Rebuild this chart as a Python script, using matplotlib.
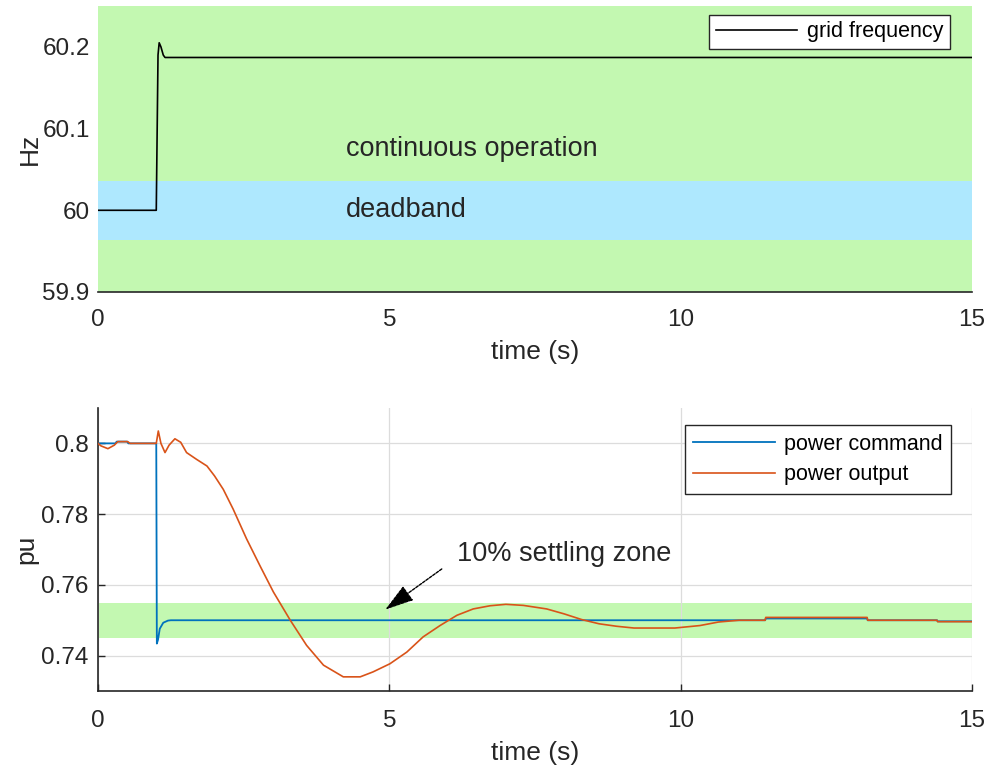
import matplotlib
matplotlib.use("Agg")
import matplotlib.pyplot as plt

plt.rcParams['font.family'] = ['Liberation Sans', 'DejaVu Sans']

# ---- data: top panel (grid frequency) ----
freq_t = [0.0, 1.0, 1.03, 1.05, 1.08, 1.12, 1.15, 15.0]
freq_hz = [60.0, 60.0, 60.19, 60.205, 60.2, 60.19, 60.187, 60.187]
deadband = [59.964, 60.036]
continuous_band = [59.9, 60.25]

# ---- data: bottom panel (power) ----
cmd_t = [0.0, 0.3, 0.32, 0.5, 0.52, 1.0, 1.01, 1.03, 1.06, 1.12, 1.2, 1.25,
         11.45, 11.46, 13.2, 13.21, 14.4, 14.41, 15.0]
cmd_pu = [0.8, 0.8, 0.8005, 0.8005, 0.8, 0.8, 0.7434, 0.7445, 0.7476, 0.7493, 0.7499, 0.75,
          0.75, 0.7505, 0.7505, 0.75, 0.75, 0.7497, 0.7497]

out_t = [0.0, 0.05, 0.17, 0.28, 0.34, 0.51, 0.55, 1.0, 1.035, 1.08, 1.15, 1.22, 1.32, 1.42,
         1.52, 1.69, 1.87, 2.0, 2.15, 2.32, 2.55, 2.78, 3.01, 3.3, 3.58, 3.87, 4.21,
         4.5, 4.72, 5.01, 5.3, 5.58, 5.87, 6.16, 6.44, 6.73, 7.0, 7.3, 7.7, 8.0, 8.3,
         8.6, 8.9, 9.2, 9.9, 10.33, 10.65, 11.0, 11.45, 11.46, 13.2, 13.21, 14.4, 14.41, 15.0]
out_pu = [0.8, 0.7993, 0.7985, 0.7995, 0.8005, 0.8005, 0.8, 0.8, 0.8035, 0.800, 0.7974, 0.7995,
          0.8013, 0.8003, 0.7974, 0.7955, 0.7936, 0.7908, 0.787, 0.7814, 0.773, 0.7654, 0.758,
          0.750, 0.7429, 0.7373, 0.734, 0.734, 0.7354, 0.7377, 0.741, 0.7453, 0.7485, 0.7514,
          0.7532, 0.7541, 0.7545, 0.7542, 0.7532, 0.7518, 0.7502, 0.749, 0.7483, 0.7478, 0.7478,
          0.7485, 0.7495, 0.75, 0.75, 0.7508, 0.7508, 0.75, 0.75, 0.7496, 0.7496]
settling_band = [0.745, 0.755]

xticks = [0, 5, 10, 15]
top_yticks = [59.9, 60.0, 60.1, 60.2]
top_yticklabels = ['59.9', '60', '60.1', '60.2']
bot_yticks = [0.74, 0.76, 0.78, 0.8]
bot_yticklabels = ['0.74', '0.76', '0.78', '0.8']

GREEN = '#c3f8b1'
BLUE_BAND = '#aee8fe'
TXT = '#262626'
C_BLUE = '#0072BD'
C_ORANGE = '#D95319'

TICK_FS = 17.5
LABEL_FS = 19
TEXT_FS = 19.5
LEG_FS = 15.5

fig = plt.figure(figsize=(9.89, 7.68), dpi=100)

# ---------- top axes ----------
ax1 = fig.add_axes([98/989, 1 - 292/768, 874/989, 286/768])
ax1.axhspan(continuous_band[0], continuous_band[1], color=GREEN, lw=0, zorder=0)
ax1.axhspan(deadband[0], deadband[1], color=BLUE_BAND, lw=0, zorder=0.5)
ax1.plot(freq_t, freq_hz, color='black', lw=1.2, label='grid frequency', zorder=3)
ax1.set_xlim(0, 15)
ax1.set_ylim(59.9, 60.25)
ax1.set_xticks(xticks)
ax1.set_xticklabels([str(v) for v in xticks])
ax1.set_yticks(top_yticks)
ax1.set_yticklabels(top_yticklabels)
for s in ['left', 'top', 'right']:
    ax1.spines[s].set_visible(False)
ax1.spines['bottom'].set_color(TXT)
ax1.spines['bottom'].set_linewidth(1.2)
ax1.tick_params(axis='x', length=0, labelsize=TICK_FS, colors=TXT, pad=12)
ax1.tick_params(axis='y', length=0, labelsize=TICK_FS, colors=TXT, pad=6)
ax1.set_xlabel('time (s)', fontsize=LABEL_FS, color=TXT, labelpad=7)
ax1.set_ylabel('Hz', fontsize=LABEL_FS, color=TXT, labelpad=0)
ax1.text(4.26, 60.0756, 'continuous operation', fontsize=TEXT_FS, color=TXT, va='center', ha='left')
ax1.text(4.26, 60.0, 'deadband', fontsize=TEXT_FS, color=TXT, va='center', ha='left')
leg1 = ax1.legend(loc='upper right', bbox_to_anchor=(950/989, 1 - 15/768),
                  bbox_transform=fig.transFigure, fontsize=LEG_FS, frameon=True, fancybox=False,
                  handlelength=3.8, borderaxespad=0, borderpad=0.3, handletextpad=0.45)
leg1.get_frame().set_edgecolor(TXT)
leg1.get_frame().set_linewidth(1.0)
leg1.get_frame().set_facecolor('white')
leg1.get_frame().set_alpha(1)

# ---------- bottom axes ----------
ax2 = fig.add_axes([98/989, 1 - 691/768, 874/989, 283/768])
ax2.axhspan(settling_band[0], settling_band[1], color=GREEN, lw=0, zorder=0.5)
ax2.plot(cmd_t, cmd_pu, color=C_BLUE, lw=1.3, label='power command', zorder=3)
ax2.plot(out_t, out_pu, color=C_ORANGE, lw=1.2, label='power output', zorder=3.5)
ax2.set_xlim(0, 15)
ax2.set_ylim(0.73, 0.81)
ax2.set_xticks(xticks)
ax2.set_xticklabels([str(v) for v in xticks])
ax2.set_yticks(bot_yticks)
ax2.set_yticklabels(bot_yticklabels)
ax2.grid(True, color='#dcdcdc', lw=0.9, zorder=0)
ax2.set_axisbelow(True)
for s in ['top', 'right']:
    ax2.spines[s].set_visible(False)
for s in ['left', 'bottom']:
    ax2.spines[s].set_color(TXT)
    ax2.spines[s].set_linewidth(1.2)
ax2.tick_params(axis='x', direction='in', length=5, width=1, labelsize=TICK_FS,
                colors=TXT, pad=14)
ax2.tick_params(axis='y', direction='in', length=5, width=1, labelsize=TICK_FS,
                colors=TXT, pad=7)
ax2.set_xlabel('time (s)', fontsize=LABEL_FS, color=TXT, labelpad=6)
ax2.set_ylabel('pu', fontsize=LABEL_FS, color=TXT, labelpad=2)
ax2.annotate('', xy=(4.93, 0.7530), xytext=(5.9, 0.7645),
             arrowprops=dict(arrowstyle='-|>,head_length=1.8,head_width=0.55',
                             color='black', lw=1.0, linestyle=(0, (2, 1)),
                             shrinkA=0, shrinkB=0), zorder=5)
ax2.text(6.16, 0.7687, '10% settling zone', fontsize=TEXT_FS, color=TXT, va='center', ha='left')
leg2 = ax2.legend(loc='upper right', bbox_to_anchor=(951/989, 1 - 425/768),
                  bbox_transform=fig.transFigure, fontsize=LEG_FS, frameon=True, fancybox=False,
                  handlelength=3.8, borderaxespad=0, borderpad=0.4, handletextpad=0.4,
                  labelspacing=0.45)
leg2.get_frame().set_edgecolor(TXT)
leg2.get_frame().set_linewidth(1.0)
leg2.get_frame().set_facecolor('white')
leg2.get_frame().set_alpha(1)

fig.savefig('out.png', dpi=100)
